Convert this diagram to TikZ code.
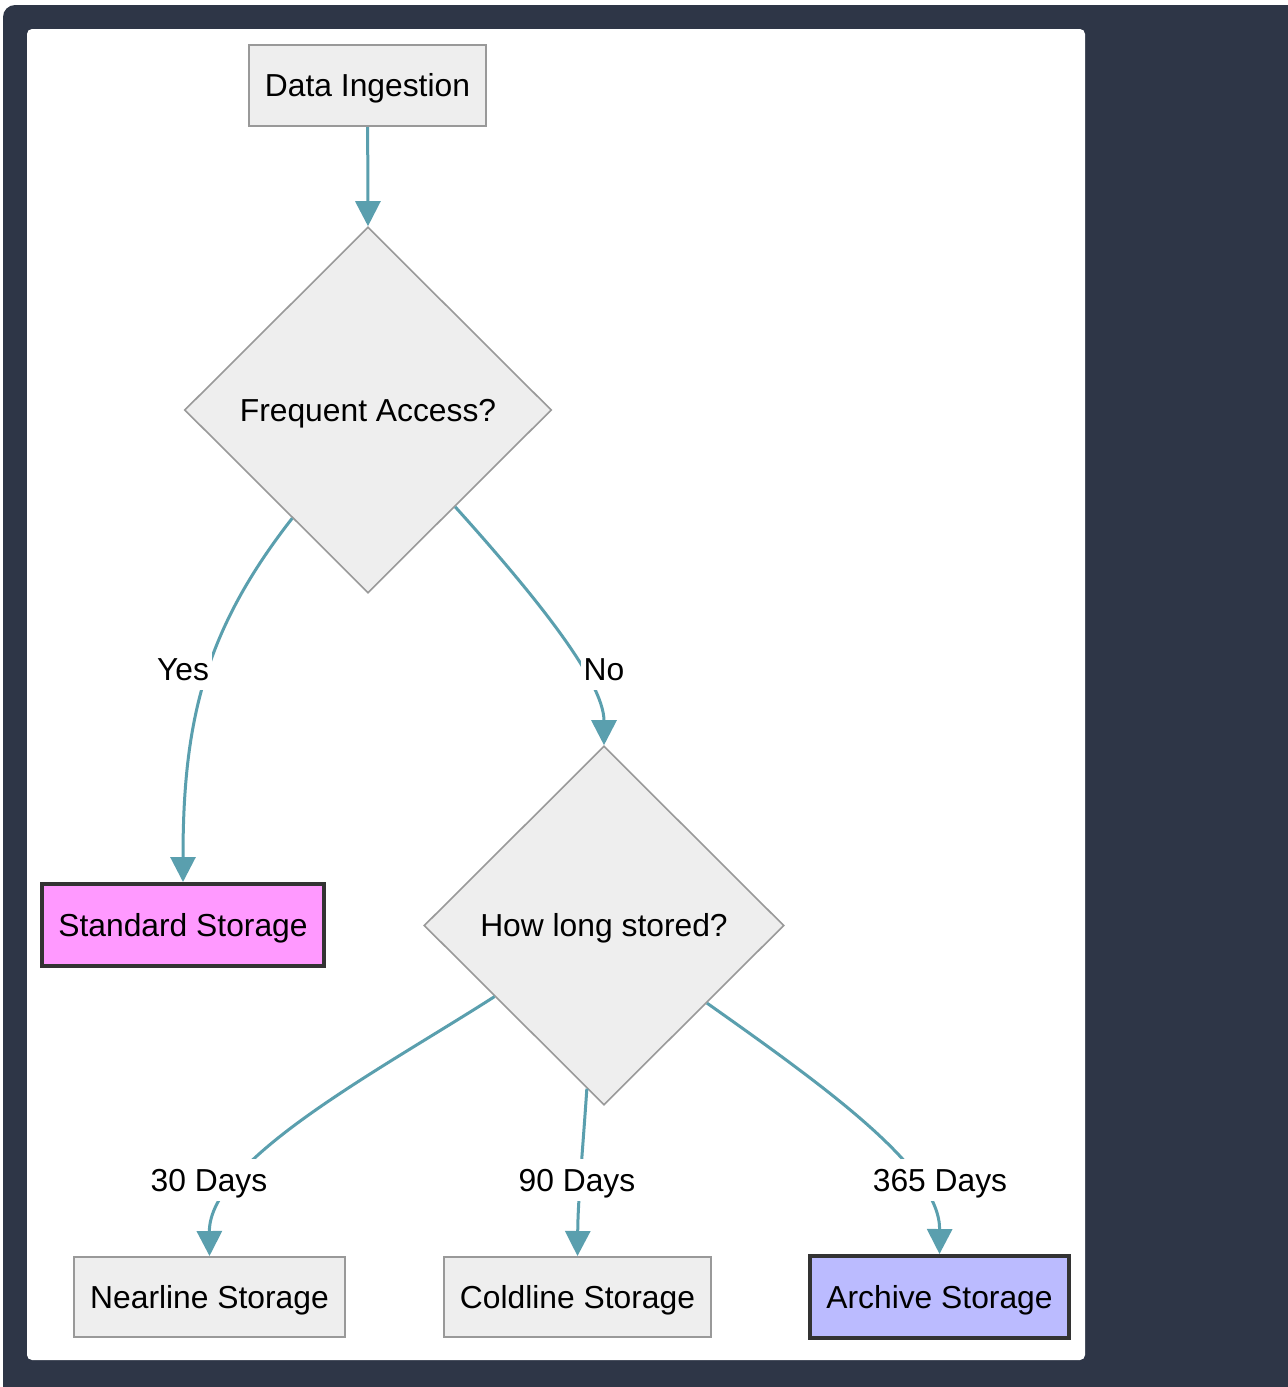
\documentclass[tikz,border=0pt]{standalone}
\usepackage{fontspec}
\setmainfont{Liberation Sans}
\usetikzlibrary{shapes.geometric,arrows.meta}

\definecolor{frame}{HTML}{2E3647}
\definecolor{flow}{HTML}{5A9FAE}
\definecolor{boxfill}{HTML}{EEEEEE}
\definecolor{boxline}{HTML}{999999}
\definecolor{hotfill}{HTML}{FF99FF}
\definecolor{coldfill}{HTML}{BBBBFF}

\begin{document}
\begin{tikzpicture}[x=0.5pt,y=-0.5pt,
    font=\fontsize{15.9}{19}\selectfont,
    every node/.style={text height=14.3pt,text depth=3.3pt},
    box/.style={draw=boxline,fill=boxfill,line width=1pt,inner sep=0pt},
    tier/.style={draw=black!80,line width=2pt,inner sep=0pt},
    choice/.style={diamond,draw=boxline,fill=boxfill,line width=0.8pt,inner sep=0pt},
    flowline/.style={draw=flow,line width=1.5pt,-{Triangle[length=12.5pt,width=12.5pt]}},
    lbl/.style={fill=white,inner sep=1.5pt}]
   \useasboundingbox (0,0) rectangle (1288,1387);
   % dark frame and white canvas
   \fill[frame,rounded corners=6pt] (3,5) rectangle (1310,1410);
   \fill[white,rounded corners=2.5pt] (27,29) rectangle (1085,1360);

   \node[box,minimum width=118.5pt,minimum height=40.5pt] (ingest) at (367.5,85.5) {Data Ingestion};
   \node[choice,minimum width=183.5pt,minimum height=183pt] (freq) at (368,410) {Frequent Access?};
   \node[tier,fill=hotfill,minimum width=141pt,minimum height=41pt] (std) at (183,925) {Standard Storage};
   \node[choice,minimum width=180pt,minimum height=179.5pt] (age) at (604,925.5) {How long stored?};
   \node[box,minimum width=135.5pt,minimum height=40pt] (near) at (209.5,1297) {Nearline Storage};
   \node[box,minimum width=133.5pt,minimum height=40pt] (cold) at (577.5,1297) {Coldline Storage};
   \node[tier,fill=coldfill,minimum width=129.5pt,minimum height=41pt] (arch) at (939.5,1297) {Archive Storage};

   \path[flowline] (ingest) -- (freq.north);
   \path[flowline] (freq.235) .. controls (205,630) and (183,720) .. (std.north);
   \path[flowline] (freq.-48) .. controls (530,590) and (604,680) .. (age.north);
   \path[flowline] (age.213) .. controls (380,1070) and (209,1160) .. (near.north);
   \path[flowline] (age.264) .. controls (582,1160) and (578,1200) .. (cold.north);
   \path[flowline] (age.-37) .. controls (830,1090) and (940,1170) .. (arch.north);

   \node[lbl] (yes) at (183,669) {Yes};
   \node[lbl] (no) at (604,669) {No};
   \node[lbl] (d30) at (209,1180) {30 Days};
   \node[lbl] (d90) at (577,1180) {90 Days};
   \node[lbl] (d365) at (940,1180) {365 Days};
\end{tikzpicture}
\end{document}
